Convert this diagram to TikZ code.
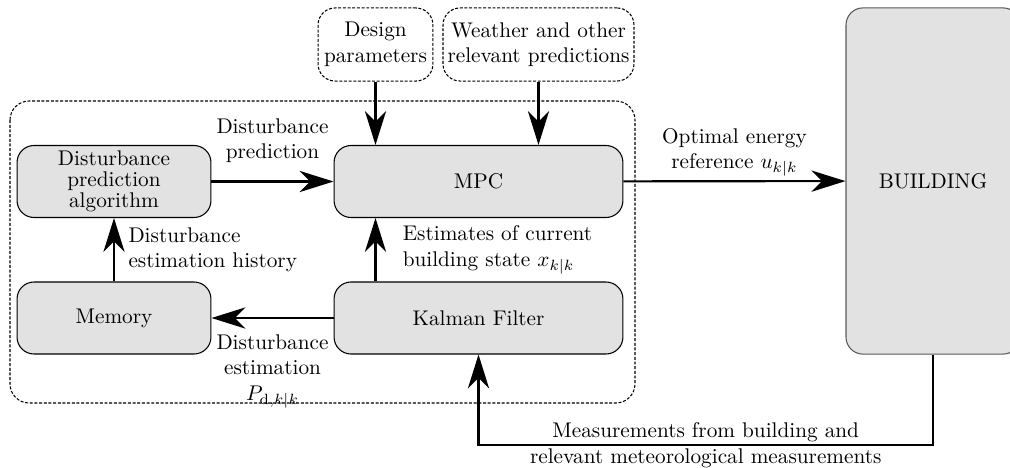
\documentclass[tikz,border=0pt]{standalone}
\usepackage{amsmath,amssymb}
\usepackage{xcolor}
\usepackage{tikz}
\usetikzlibrary{arrows.meta,positioning,calc}

\definecolor{boxgray}{gray}{0.886}

\begin{document}
\begin{tikzpicture}[
    x=0.4708pt,y=-0.4708pt,
    every node/.style={font=\normalsize},
    block/.style={
        draw,line width=0.5pt,fill=boxgray,rounded corners=8pt,
        minimum width=91.3pt,minimum height=33.9pt,align=center,inner sep=2pt
    },
    wideblock/.style={block,minimum width=136pt},
    input/.style={
        draw,line width=0.5pt,dash pattern=on 1.4pt off 0.8pt,
        rounded corners=8pt,minimum height=34.4pt,align=center,inner sep=1pt
    },
    frame/.style={draw,line width=0.5pt,dash pattern=on 1.4pt off 0.8pt,
        rounded corners=9pt},
    arr/.style={-{Stealth[length=16pt,width=10pt,inset=5pt]},line width=1pt}
]
\useasboundingbox (0,0) rectangle (1010,468);

% controller frame
\draw[frame] (10,101) rectangle (635,403);

% inputs
\node[input,minimum width=54.1pt] (design) at (375.5,44.5)
  {Design\\parameters};
\node[input,minimum width=89.9pt] (weather) at (538.5,44.5)
  {Weather and other\\relevant predictions};

% blocks
\node[block] (dpa) at (114,181.5)
  {Disturbance\\[-2pt]prediction\\[-2pt]algorithm};
\node[wideblock] (mpc) at (478.5,181.5) {MPC};
\node[block] (memory) at (114,318) {Memory};
\node[wideblock] (kalman) at (478.5,318) {Kalman Filter};
\node[block,draw=black!65,minimum width=81.9pt,minimum height=163pt]
  (building) at (933,181) {BUILDING};

% connections
\draw[arr] (design.south) -- (design.south |- mpc.north);
\draw[arr] (weather.south) -- (weather.south |- mpc.north);
\draw[arr] (dpa) -- node[above=5pt,align=center]
  {Disturbance\\prediction} (mpc);
\draw[arr] (mpc) -- node[above=-1.5pt,align=center]
  {Optimal energy\\reference $u_{k|k}$} (building);
\draw[arr] (memory) -- node[right=3pt,align=left]
  {Disturbance\\estimation history} (dpa);
\draw[arr] (kalman.north -| design.south) -- node[right=9pt,align=left]
  {Estimates of current\\building state $x_{k|k}$} (mpc.south -| design.south);
\draw[arr] (kalman) -- node[below=4pt,align=center]
  {Disturbance\\estimation\\$P_{\mathrm{d},k|k}$} (memory);
\coordinate (corner) at (building.south |- 0,445);
\draw[arr] (building.south) -- (corner) -| node[pos=0.25,align=center]
  {Measurements from building and\\relevant meteorological measurements}
  (kalman.south);
\end{tikzpicture}
\end{document}
